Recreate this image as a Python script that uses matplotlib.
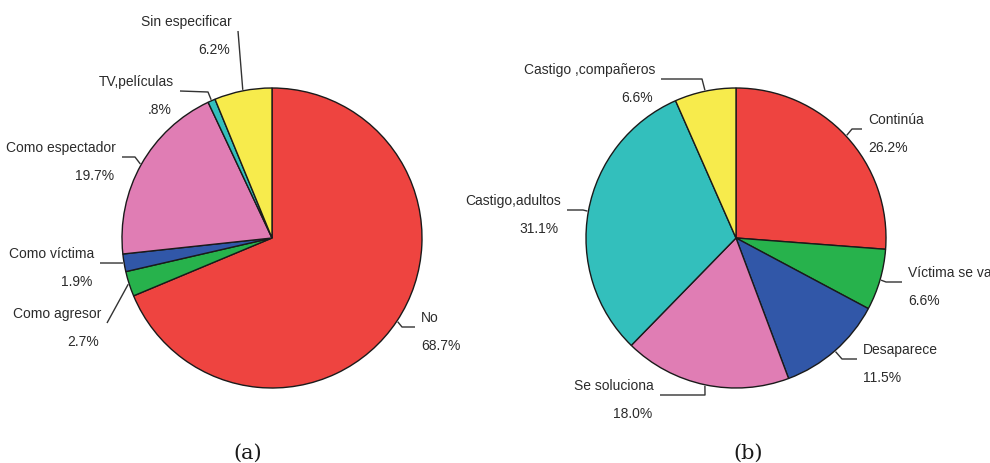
import numpy as np
import matplotlib
matplotlib.use("Agg")
import matplotlib.pyplot as plt

plt.rcParams['font.family'] = ['Liberation Sans', 'DejaVu Sans']

# Data --------------------------------------------------------------
labels_a = ["No", "Como agresor", "Como víctima", "Como espectador",
            "TV,películas", "Sin especificar"]
values_a = [68.7, 2.7, 1.9, 19.7, 0.8, 6.2]
pct_a = ["68.7%", "2.7%", "1.9%", "19.7%", ".8%", "6.2%"]

labels_b = ["Continúa", "Víctima se va", "Desaparece", "Se soluciona",
            "Castigo,adultos", "Castigo ,compañeros"]
values_b = [26.2, 6.6, 11.5, 18.0, 31.1, 6.6]
pct_b = ["26.2%", "6.6%", "11.5%", "18.0%", "31.1%", "6.6%"]

captions = ["(a)", "(b)"]

# Styling -----------------------------------------------------------
colors_a = ["#EE4440", "#27B24C", "#3157A8", "#E07DB4", "#33BFBC", "#F7EB4C"]
colors_b = ["#EE4440", "#27B24C", "#3157A8", "#E07DB4", "#33BFBC", "#F7EB4C"]

W, H = 990, 464
R = 150

# leader layout in pixel space (y downward): elbow point, end point, side
layout_a = [
    ((402, 328), (415, 328), "right"),
    (None, (107, 324), "left"),
    (None, (100, 264), "left"),
    ((135, 158), (122, 158), "left"),
    ((208, 93), (180, 92), "left"),
    (None, (238, 32), "left"),
]
layout_b = [
    ((852, 130), (862, 130), "right"),
    ((886, 283), (902, 283), "right"),
    ((842, 360), (857, 360), "right"),
    ((705, 396), (660, 396), "left"),
    ((583, 211), (567, 211), "left"),
    ((702, 80), (661, 80), "left"),
]

fig = plt.figure(figsize=(W / 100, H / 100), dpi=100)
ax = fig.add_axes([0, 0, 1, 1])

TXT = "#2b2b2b"


def Y(y):
    return H - y


def draw_pie(center_px, values, colors, labels, pcts, layout):
    cx, cy = center_px
    wedges, _ = ax.pie(values, colors=colors, startangle=90, counterclock=False,
                       center=(cx, Y(cy)), radius=R,
                       wedgeprops=dict(edgecolor="#1a1a1a", linewidth=1.0))
    total = float(sum(values))
    cum = 0.0
    for v, name, pct, (elbow, end, side) in zip(values, labels, pcts, layout):
        mid = 90.0 - (cum + v / 2.0) / total * 360.0
        cum += v
        ang = np.deg2rad(mid)
        sx = cx + (R + 1) * np.cos(ang)
        sy = Y(cy) + (R + 1) * np.sin(ang)
        xs, ys = [sx], [sy]
        if elbow is not None:
            xs.append(elbow[0]); ys.append(Y(elbow[1]))
        xs.append(end[0]); ys.append(Y(end[1]))
        ax.plot(xs, ys, color="#333333", lw=1.0, solid_capstyle="butt")
        if side == "right":
            tx, ha, dx2 = end[0] + 6, "left", 0
        else:
            tx, ha, dx2 = end[0] - 6, "right", -2
        ax.text(tx, Y(end[1] - 10), name, ha=ha, va="center",
                fontsize=10, color=TXT)
        ax.text(tx + dx2, Y(end[1] + 18), pct, ha=ha, va="center",
                fontsize=10, color=TXT)


draw_pie((272, 239), values_a, colors_a, labels_a, pct_a, layout_a)
draw_pie((736, 239), values_b, colors_b, labels_b, pct_b, layout_b)

for cap, x in zip(captions, [248, 748]):
    ax.text(x, Y(453), cap, ha="center", va="center", fontsize=15,
            family="DejaVu Serif", color="#1a1a1a")

ax.set_xlim(0, W)
ax.set_ylim(0, H)
ax.set_aspect("equal")
ax.axis("off")

fig.savefig("out.png", dpi=100, facecolor="white")
